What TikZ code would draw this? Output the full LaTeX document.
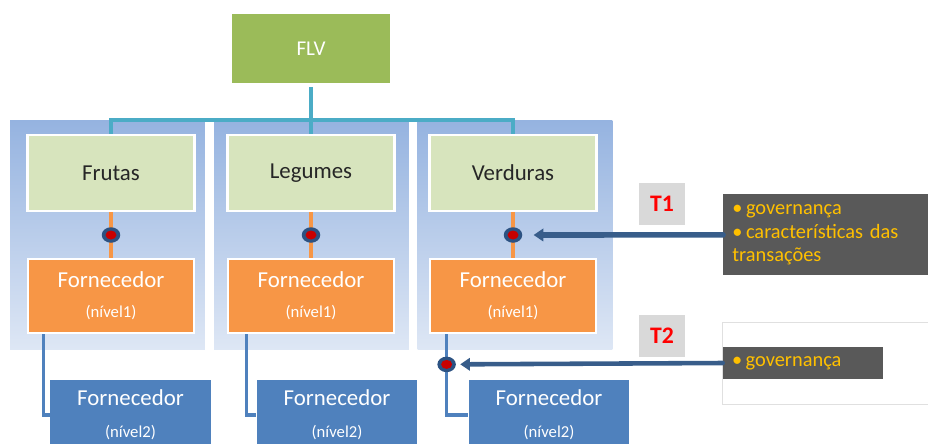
\documentclass[tikz,border=0pt]{standalone}
\usepackage{fontspec}
\setmainfont{Carlito}
\usepackage{tikz}
\usetikzlibrary{shapes.geometric,arrows.meta,calc}
\definecolor{flvgreen}{RGB}{155,187,89}
\definecolor{catgreen}{RGB}{215,228,189}
\definecolor{suporange}{RGB}{247,150,70}
\definecolor{supblue}{RGB}{79,129,189}
\definecolor{busteal}{RGB}{75,172,198}
\definecolor{paneltop}{RGB}{149,179,224}
\definecolor{panelbot}{RGB}{222,231,245}
\definecolor{dotblue}{RGB}{44,82,130}
\definecolor{dotred}{RGB}{200,0,0}
\definecolor{arrowblue}{RGB}{56,93,138}
\definecolor{taggray}{RGB}{217,217,217}
\definecolor{infogray}{RGB}{89,89,89}
\definecolor{infotext}{RGB}{255,192,0}
\newcommand{\lvl}[1]{{\fontsize{9.5}{17}\selectfont(nível#1)}}
\newcommand{\bul}{•\kern2pt}

\begin{document}
\begin{tikzpicture}[x=0.02cm,y=-0.02cm,
	panel/.style={minimum width=3.9cm,minimum height=4.6cm,inner sep=0,top color=paneltop,bottom color=panelbot},
	catbox/.style={fill=catgreen,draw=white,line width=1.6pt,minimum width=3.34cm,minimum height=1.52cm,text=black!85,font=\fontsize{13}{16}\selectfont},
	supone/.style={fill=suporange,draw=white,line width=1.6pt,minimum width=3.32cm,minimum height=1.48cm,text=white,align=center,font=\fontsize{13}{17}\selectfont},
	suptwo/.style={fill=supblue,minimum width=3.22cm,minimum height=1.4cm,text=white,align=center,font=\fontsize{13}{18}\selectfont},
	dot/.style={ellipse,fill=dotblue,minimum width=0.37cm,minimum height=0.31cm,inner sep=0,
		path picture={\fill[dotred] (path picture bounding box.center) ellipse (0.11cm and 0.09cm);}},
	tag/.style={fill=taggray,minimum width=0.92cm,minimum height=0.84cm,text=red,font=\fontsize{13.5}{16}\selectfont\bfseries},
	info/.style={fill=infogray,text=infotext,align=left,inner xsep=0.18cm,font=\fontsize{11.6}{13.6}\selectfont},
	busline/.style={busteal,line width=1.8pt},
	orline/.style={suporange,line width=1.8pt},
	blline/.style={supblue,line width=1.8pt},
	callout/.style={arrowblue,line width=3.2pt,line cap=round,-{Triangle[length=5.5pt,width=7pt]}}]
	\useasboundingbox (0,0) rectangle (928,443);

	\node[panel] (p1) at (107.5,235) {};
	\node[panel] (p2) at (311.5,235) {};
	\node[panel] (p3) at (515,235) {};

	\node[fill=flvgreen,minimum width=3.18cm,minimum height=1.38cm,text=white,font=\fontsize{12}{14}\selectfont] (flv) at (311,48.5) {FLV};

	\node[catbox] (g1) at (111,173) {Frutas};
	\node[catbox] (g2) at (311,173) {Legumes};
	\node[catbox] (g3) at (513,173) {Verduras};

	\node[supone] (o1) at (111,296) {Fornecedor\\\lvl{1}};
	\node[supone] (o2) at (311,296) {Fornecedor\\\lvl{1}};
	\node[supone] (o3) at (513,296) {Fornecedor\\\lvl{1}};

	\node[suptwo] (b1) at (130.5,415) {Fornecedor\\\lvl{2}};
	\node[suptwo] (b2) at (337,415) {Fornecedor\\\lvl{2}};
	\node[suptwo] (b3) at (549,415) {Fornecedor\\\lvl{2}};

	\coordinate (bus) at (311,120);
	\draw[busline,shorten <=2pt] (flv.south) -- (bus);
	\draw[busline] (g1.north) |- (bus) -| (g3.north);
	\draw[busline] (bus) -- (g2.north);

	\draw[orline] (g1.south) -- (o1.north);
	\draw[orline] (g2.south) -- (o2.north);
	\draw[orline] (g3.south) -- (o3.north);

	\draw[blline] ($(o1.south west)+(17,0)$) |- (b1.west);
	\draw[blline] ($(o2.south west)+(20,0)$) |- (b2.west);
	\draw[blline] ($(o3.south west)+(18,0)$) |- (b3.west);

	\node[dot] (d1) at ($(g1.south)!0.5!(o1.north)$) {};
	\node[dot] (d2) at ($(g2.south)!0.5!(o2.north)$) {};
	\node[dot] (d3) at ($(g3.south)!0.5!(o3.north)$) {};
	\node[dot] (d4) at ($(o3.south west)+(18,30)$) {};

	\node[tag] (t1) at (662,204) {T1};
	\node[tag] (t2) at (662,335.5) {T2};

	\node[info,anchor=north west,minimum height=1.62cm,text width=3.9cm] (i1) at (723,194)
		{\bul governança\\\bul características das\\transações};
	\node[draw=black!12,line width=0.5pt,anchor=north west,minimum width=4.4cm,minimum height=1.64cm] (f2) at (722,322) {};
	\node[info,minimum height=0.64cm,text width=2.84cm] (i2) at (803,363) {\bul governança};

	\draw[callout,shorten >=0.22cm] (i1.west) -- (d3);
	\draw[callout,line width=2.6pt,shorten >=0.08cm] (i2.west) -- (d4);
\end{tikzpicture}
\end{document}
